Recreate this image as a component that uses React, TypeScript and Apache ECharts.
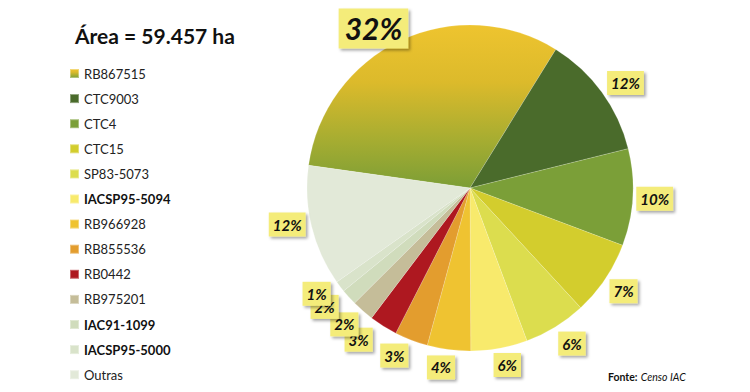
import React, { useEffect, useRef } from "react";
import * as echarts from "echarts";

const title = "Área = 59.457 ha";
const source = ["Fonte:", "Censo IAC"];

const categories = [
  "RB867515",
  "CTC9003",
  "CTC4",
  "CTC15",
  "SP83-5073",
  "IACSP95-5094",
  "RB966928",
  "RB855536",
  "RB0442",
  "RB975201",
  "IAC91-1099",
  "IACSP95-5000",
  "Outras",
];

// estimated shares of area (%)
const shares = [31.6, 12.3, 9.6, 7.4, 6.2, 5.6, 4.3, 3.3, 2.8, 2.2, 1.6, 1.1, 12.0];

const boldLegendItems = ["IACSP95-5094", "IAC91-1099", "IACSP95-5000"];

const sliceColors: any[] = [
  new echarts.graphic.LinearGradient(0, 0, 0, 1, [
    { offset: 0, color: "#EEC42F" },
    { offset: 0.35, color: "#DCBA2B" },
    { offset: 0.7, color: "#A7AD31" },
    { offset: 1, color: "#7C9E36" },
  ]),
  "#4A6B2B",
  "#7B9F38",
  "#D3CD2D",
  "#DCDD4E",
  "#F8EA6C",
  "#EFC331",
  "#E39D2E",
  "#AE1820",
  "#C5BD99",
  "#D0DCBC",
  "#D9E3CA",
  "#E2E9D8",
];

const FONT = "Lato, 'Liberation Sans', sans-serif";

// small nudges of label boxes, as in the reference (dx, dy)
const labelNudge: Record<number, [number, number]> = {
  0: [-18, 8],
  1: [6, 4],
  4: [5, -2],
  5: [4, -5],
  6: [-5, -4],
  7: [-9, -5],
  8: [-13, -5],
  9: [-4, -3],
  10: [-8, -5],
  11: [-6, -6],
  12: [-3, -7],
};

export default function App() {
  const ref = useRef<HTMLDivElement>(null);

  useEffect(() => {
    document.body.style.margin = "0";
    if (!ref.current) return;
    const chart = echarts.init(ref.current, null, { renderer: "svg" });

    const data = categories.map((name, i) => {
      const item: any = {
        name,
        value: shares[i],
        itemStyle: { color: sliceColors[i] },
      };
      if (i === 0) {
        item.label = {
          fontSize: 30,
          lineHeight: 32,
          padding: [4, 6, 4, 6],
        };
      }
      return item;
    });

    chart.setOption({
      animation: false,
      backgroundColor: "#ffffff",
      title: {
        text: title,
        left: 75,
        top: 25,
        padding: 0,
        textStyle: {
          fontFamily: FONT,
          fontSize: 21,
          fontWeight: "bold",
          color: "#111111",
        },
      },
      legend: {
        orient: "vertical",
        left: 69,
        top: 67,
        padding: 0,
        icon: "rect",
        itemWidth: 9,
        itemHeight: 9,
        itemGap: 12.1,
        selectedMode: false,
        textStyle: {
          fontFamily: FONT,
          fontSize: 13,
          color: "#222222",
        },
        data: categories.map((name) => ({
          name,
          textStyle: boldLegendItems.includes(name)
            ? { fontWeight: "bold", color: "#111111" }
            : {},
        })),
      },
      graphic: [
        {
          type: "text",
          left: 608,
          top: 371,
          style: {
            text: `{b|${source[0]}} {i|${source[1]}}`,
            rich: {
              b: { fontFamily: FONT, fontSize: 10.5, fontWeight: "bold", fill: "#111" },
              i: { fontFamily: FONT, fontSize: 10.5, fontStyle: "italic", fill: "#111" },
            },
          },
        },
      ],
      series: [
        {
          type: "pie",
          center: [470, 188],
          radius: 163,
          startAngle: 172,
          clockwise: true,
          avoidLabelOverlap: false,
          percentPrecision: 0,
          itemStyle: {
            borderColor: "rgba(255,255,255,0.35)",
            borderWidth: 0.5,
          },
          label: {
            show: true,
            position: "outside",
            formatter: "{d}%",
            fontFamily: FONT,
            fontSize: 15,
            lineHeight: 17,
            fontWeight: "bold",
            fontStyle: "italic",
            color: "#111111",
            backgroundColor: "#F4EC7A",
            padding: [4, 4, 3, 4],
            distanceToLabelLine: 0,
            shadowColor: "rgba(0,0,0,0.35)",
            shadowBlur: 3,
            shadowOffsetX: 2,
            shadowOffsetY: 2,
          },
          labelLine: { show: false, length: 22, length2: 0 },
          labelLayout: (p: any) => {
            const n = labelNudge[p.dataIndex] || [0, 0];
            return { align: "center", verticalAlign: "middle", dx: n[0], dy: n[1] };
          },
          emphasis: { disabled: true },
          data,
        },
      ],
    });

    return () => chart.dispose();
  }, []);

  return <div ref={ref} style={{ width: 750, height: 392 }} />;
}
